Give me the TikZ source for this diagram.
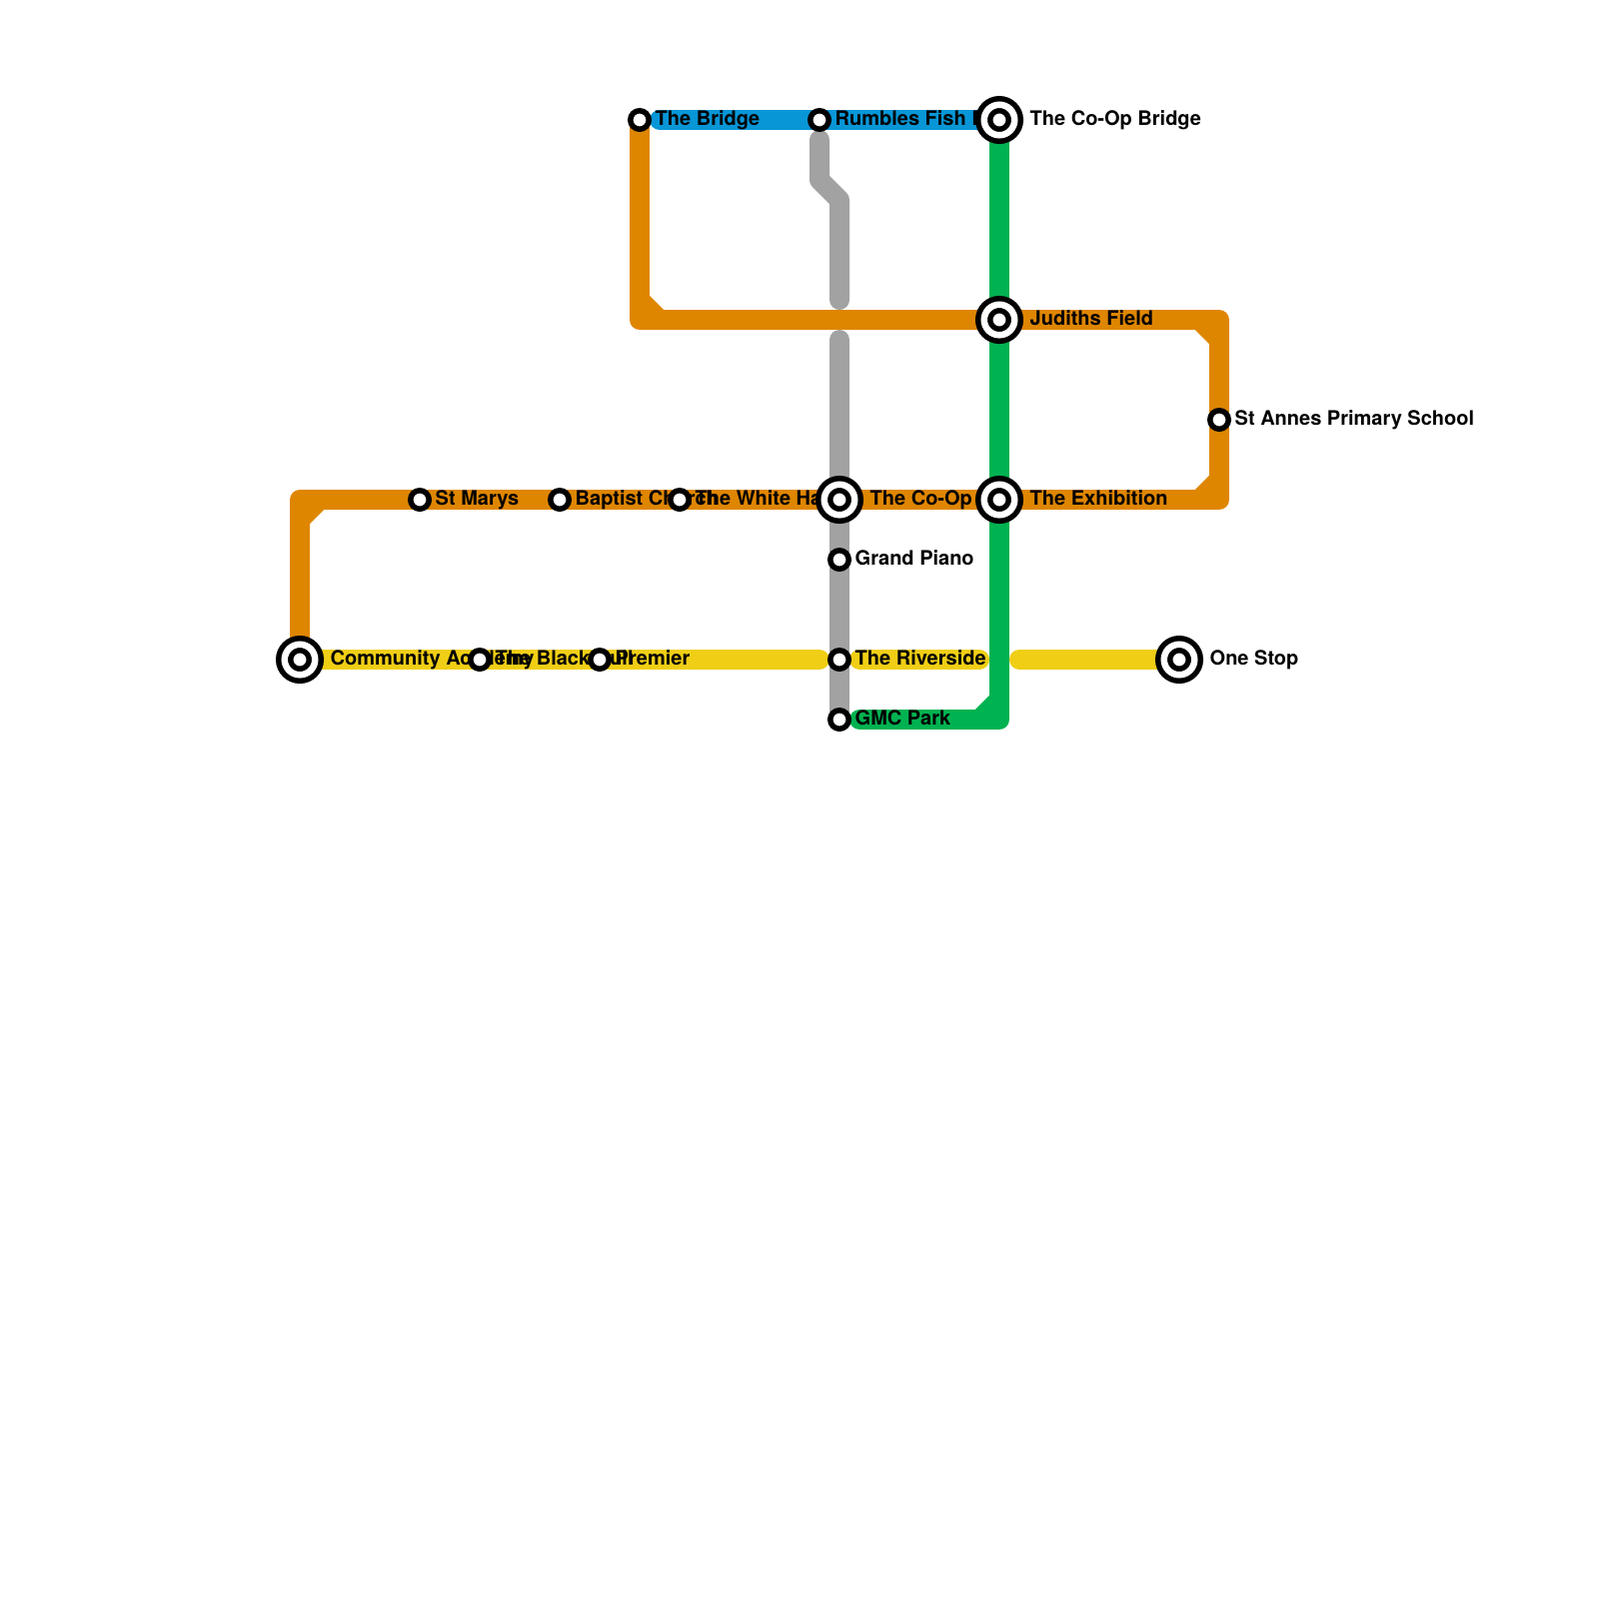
\documentclass[tikz,border=0pt]{standalone}
\usepackage{fontspec}
\setmainfont{TeX Gyre Heros}
\definecolor{orangeline}{HTML}{DF8600}
\definecolor{blueline}{HTML}{0896D7}
\definecolor{greenline}{HTML}{00B251}
\definecolor{greyline}{HTML}{A2A2A2}
\definecolor{yellowline}{HTML}{F0CE15}
\pgfdeclarelayer{lines}
\pgfdeclarelayer{names}
\pgfsetlayers{lines,names,main}
\tikzset{
  track/.style={line width=2mm,line cap=round,line join=round},
  stop/.style={circle,draw=black,fill=white,line width=.55mm,inner sep=0pt,outer sep=0pt,minimum size=1.85mm},
  hub/.style={circle,draw=black,double=white,double distance=.65mm,fill=white,line width=.55mm,inner sep=0pt,outer sep=0pt,minimum size=3.05mm},
  stopname/.style={anchor=base west,inner sep=0pt,font=\bfseries\fontsize{5.69pt}{6pt}\selectfont},
}
\begin{document}
\begin{tikzpicture}[x=.1mm,y=-.1mm]
\useasboundingbox (0,0) rectangle (1600,1600);
\foreach \n/\x/\y in {bridge/640/120, rumbles/820/120, marys/420/500, baptist/560/500, whitehall/680/500, piano/840/560, blackbull/480/660, premier/600/660, riverside/840/660, gmc/840/720, annes/1220/420} {
  \node[stop] (\n) at (\x,\y) {};
}
\foreach \n/\x/\y in {coopbridge/1000/120, judiths/1000/320, exhibition/1000/500, coop/840/500, community/300/660, onestop/1180/660} {
  \node[hub] (\n) at (\x,\y) {};
}
\foreach \n/\x/\y in {a/660/120, b/640/320, c/1220/320, d/1220/500, e/300/500, f/640/300, g/660/320, h/1200/320, i/1220/340, j/1220/480, k/1200/500, l/300/520, m/320/500, n/820/140, o/820/180, p/840/200, q/840/300, r/840/340, s/1000/720, t/860/720, u/1000/700, v/980/720, w/820/660, x/860/660, y/980/660, z/1020/660} {
  \coordinate (\n) at (\x,\y);
}
\begin{pgfonlayer}{lines}
\draw[track,blueline] (a) -- (rumbles.center) -- (coopbridge.center);
\draw[track,orangeline] (bridge.center) -- (b) -- (judiths.center) -- (c) -- (annes.center) -- (d) -- (exhibition.center) -- (coop.center) -- (whitehall.center) -- (baptist.center) -- (marys.center) -- (e) -- (community.center);
\draw[track,orangeline] (f) -- (g) (h) -- (i) (j) -- (k) (l) -- (m);
\draw[track,yellowline] (community.center) -- (blackbull.center) -- (premier.center) -- (w);
\draw[track,yellowline] (x) -- (y);
\draw[track,yellowline] (z) -- (onestop.center);
\draw[track,greyline] (n) -- (o) -- (p) -- (q);
\draw[track,greyline] (r) -- (coop.center) -- (piano.center) -- (riverside.center) -- (gmc.center);
\draw[track,greenline] (coopbridge.center) -- (judiths.center) -- (exhibition.center) -- (s) -- (t);
\draw[track,greenline] (u) -- (v);
\end{pgfonlayer}
\begin{pgfonlayer}{names}
\foreach \n/\t in {bridge/The Bridge, rumbles/Rumbles Fish Bar, marys/St Marys, baptist/Baptist Church, whitehall/The White Hall, piano/Grand Piano, blackbull/The Black Bull, premier/Premier, riverside/The Riverside, gmc/GMC Park, annes/St Annes Primary School} {
  \node[stopname] (\n-name) at ([xshift=1.5mm,yshift=-.5mm]\n.center) {\t};
}
\foreach \n/\t in {coopbridge/The Co-Op Bridge, judiths/Judiths Field, exhibition/The Exhibition, coop/The Co-Op, community/Community Academy, onestop/One Stop} {
  \node[stopname] (\n-name) at ([xshift=3mm,yshift=-.5mm]\n.center) {\t};
}
\end{pgfonlayer}
\end{tikzpicture}
\end{document}
